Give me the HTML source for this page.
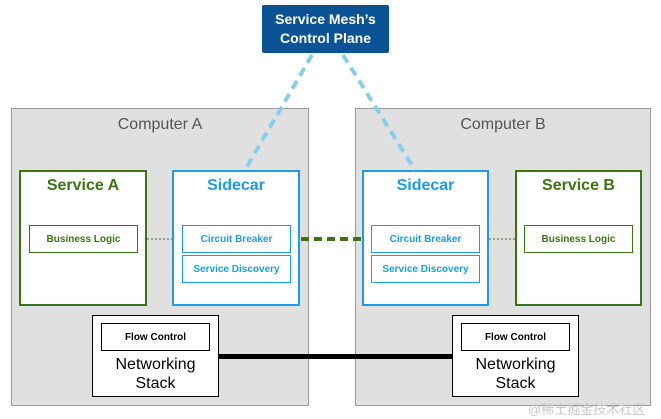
<!DOCTYPE html>
<html><head><meta charset="utf-8"><style>
body{margin:0;width:661px;height:419px;background:#fff;position:relative;overflow:hidden;font-family:"Liberation Sans","DejaVu Sans",sans-serif}
.a{position:absolute;box-sizing:border-box;text-align:center}
.comp{background:#e0e0e0;border:1px solid #9a9a9a;color:#555;font-size:16px;padding-top:7px}
.svc{background:#fff;border:2px solid #3d7315;color:#3d7315;font-weight:bold;font-size:16px;padding-top:5px}
.sc{background:#fff;border:2px solid #1e9be8;color:#1e9be8;font-weight:bold;font-size:16px;padding-top:5px}
.in{font-size:10px;font-weight:bold;display:flex;align-items:center;justify-content:center}
.g{border:1px solid #3d7315;color:#3d7315;background:#fff}
.b{border:1px solid #1e9be8;color:#1e9be8;background:#fff}
.net{background:#fff;border:1.5px solid #000;font-size:16px;line-height:19px;padding-top:39px}
.fc{border:1px solid #000;color:#000;background:#fff}
</style></head><body>
<div class="a comp" style="left:11px;top:108px;width:298px;height:298px">Computer A</div>
<div class="a comp" style="left:355px;top:108px;width:296px;height:298px">Computer B</div>
<div class="a" style="left:218px;top:354px;width:235px;height:5px;background:#000"></div>
<div class="a svc" style="left:19px;top:170px;width:128px;height:136px">Service A</div>
<div class="a sc" style="left:172px;top:170px;width:128px;height:136px">Sidecar</div>
<div class="a sc" style="left:362px;top:170px;width:127px;height:136px">Sidecar</div>
<div class="a svc" style="left:515px;top:170px;width:127px;height:136px">Service B</div>
<div class="a in g" style="left:29px;top:225px;width:109px;height:28px">Business Logic</div>
<div class="a in b" style="left:182px;top:225px;width:109px;height:28px">Circuit Breaker</div>
<div class="a in b" style="left:182px;top:255px;width:109px;height:28px">Service Discovery</div>
<div class="a in b" style="left:371px;top:225px;width:109px;height:28px">Circuit Breaker</div>
<div class="a in b" style="left:371px;top:255px;width:109px;height:28px">Service Discovery</div>
<div class="a in g" style="left:524px;top:225px;width:109px;height:28px">Business Logic</div>
<div class="a net" style="left:92px;top:315px;width:127px;height:82px">Networking<br>Stack</div>
<div class="a net" style="left:452px;top:315px;width:127px;height:82px">Networking<br>Stack</div>
<div class="a in fc" style="left:101px;top:323px;width:109px;height:28px">Flow Control</div>
<div class="a in fc" style="left:461px;top:323px;width:109px;height:28px">Flow Control</div>
<div class="a" style="left:262px;top:5px;width:127px;height:48px;background:#0b5394;color:#fff;font-weight:bold;font-size:14px;line-height:19px;padding-top:5px;border-radius:2px">Service Mesh’s<br>Control Plane</div>
<svg class="a" style="left:0;top:0" width="661" height="419">
<g stroke="#87ceeb" stroke-width="4" stroke-dasharray="9,6" fill="none">
<line x1="312" y1="55" x2="245" y2="170"/>
<line x1="343" y1="55" x2="415" y2="170"/>
</g>
<line x1="301" y1="239" x2="361" y2="239" stroke="#3d7315" stroke-width="4" stroke-dasharray="8,5"/>
<line x1="147" y1="239" x2="172" y2="239" stroke="#3d7315" stroke-width="1" stroke-dasharray="2,2"/>
<line x1="489" y1="239" x2="515" y2="239" stroke="#3d7315" stroke-width="1" stroke-dasharray="2,2"/>
</svg>
<div class="a" style="left:528px;top:399px;font-size:13px;color:#c8c8c8;font-family:'Liberation Sans','Noto Sans CJK SC',sans-serif">@稀土掘金技术社区</div>
</body></html>
